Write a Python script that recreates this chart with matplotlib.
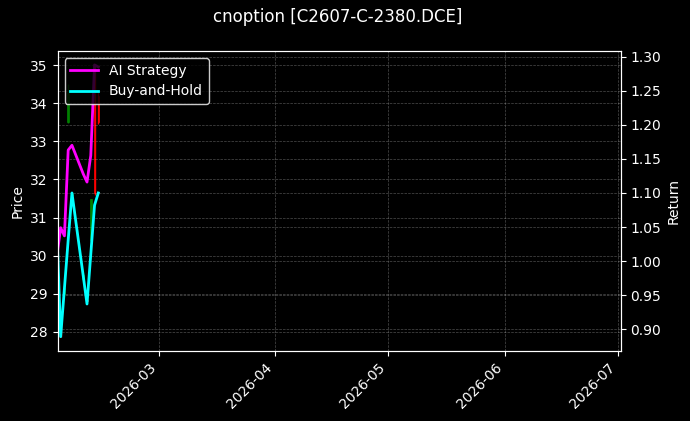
import matplotlib
matplotlib.use("Agg")
import matplotlib.pyplot as plt
import matplotlib.dates as mdates
import pandas as pd
import numpy as np

plt.style.use('dark_background')

# ---- data ----
dates = pd.to_datetime(["2026-02-02", "2026-02-03", "2026-02-04", "2026-02-05", "2026-02-06",
                        "2026-02-09", "2026-02-10", "2026-02-11", "2026-02-12", "2026-02-13"])
open_ = [31.30, 28.10, 29.00, 33.50, 31.59, 29.40, 28.85, 30.40, 34.00, 34.20]
high = [31.40, 28.20, 29.20, 34.50, 31.63, 29.55, 28.90, 31.50, 35.00, 34.30]
low = [30.90, 27.86, 28.95, 33.48, 31.57, 29.35, 28.80, 30.38, 31.60, 33.45]
close = [31.00, 27.90, 29.15, 34.30, 31.61, 29.50, 28.82, 31.50, 31.65, 33.50]

ai_strategy = [1.007, 1.049, 1.037, 1.163, 1.170, 1.128, 1.116, 1.155, 1.288, 1.285]
buy_hold = [1.050, 0.889, 0.960, 1.031, 1.100, 0.978, 0.937, 1.010, 1.082, 1.100]

title = "cnoption [C2607-C-2380.DCE]"
x_start = pd.Timestamp("2026-02-02 04:30")
x_end = pd.Timestamp("2026-07-01 17:00")

# ---- figure ----
W, H = 690, 421
fig = plt.figure(figsize=(W / 100, H / 100), dpi=100)
fig.patch.set_facecolor('black')
ax = fig.add_axes([57.6 / W, 1 - 351 / H, (620.5 - 57.6) / W, (351 - 51) / H])
ax.set_facecolor('black')

xs = mdates.date2num(dates)
o = np.array(open_); c = np.array(close); h = np.array(high); l = np.array(low)
colors = np.where(c >= o, 'green', 'red')
ax.vlines(xs, l, h, colors=colors, linewidth=1.0, zorder=2)
ax.bar(xs, c - o, bottom=o, width=0.4, color=colors, edgecolor=colors, linewidth=0.5, zorder=2)

ax.set_ylim(27.5, 35.37)
ax.set_ylabel("Price", fontsize=10)
ax.grid(True, linestyle='--', linewidth=0.5, alpha=0.3, color='white')

ax2 = ax.twinx()
l1, = ax2.plot(dates, ai_strategy, color='#ff00ff', linewidth=2, label='AI Strategy')
l2, = ax2.plot(dates, buy_hold, color='#00ffff', linewidth=2, label='Buy-and-Hold')
ax2.set_ylim(0.868, 1.3084)
ax2.set_ylabel("Return", fontsize=10)
ax2.grid(True, linestyle='--', linewidth=0.5, alpha=0.3, color='white')
ax2.yaxis.set_major_locator(matplotlib.ticker.MultipleLocator(0.05))
ax2.yaxis.set_major_formatter(matplotlib.ticker.FormatStrFormatter('%.2f'))

ax.set_xlim(mdates.date2num(x_start), mdates.date2num(x_end))
ax.xaxis.set_major_locator(mdates.MonthLocator())
ax.xaxis.set_major_formatter(mdates.DateFormatter('%Y-%m'))
for lab in ax.get_xticklabels():
    lab.set_rotation(45)
    lab.set_ha('right')

leg = ax2.legend(handles=[l1, l2], loc='upper left', facecolor='black', edgecolor='white',
                 framealpha=0.8, fontsize=10)

fig.suptitle(title, x=338 / W, y=1 - 8 / H, va='top', fontsize=12)

fig.savefig("out.png", dpi=100, facecolor='black')
